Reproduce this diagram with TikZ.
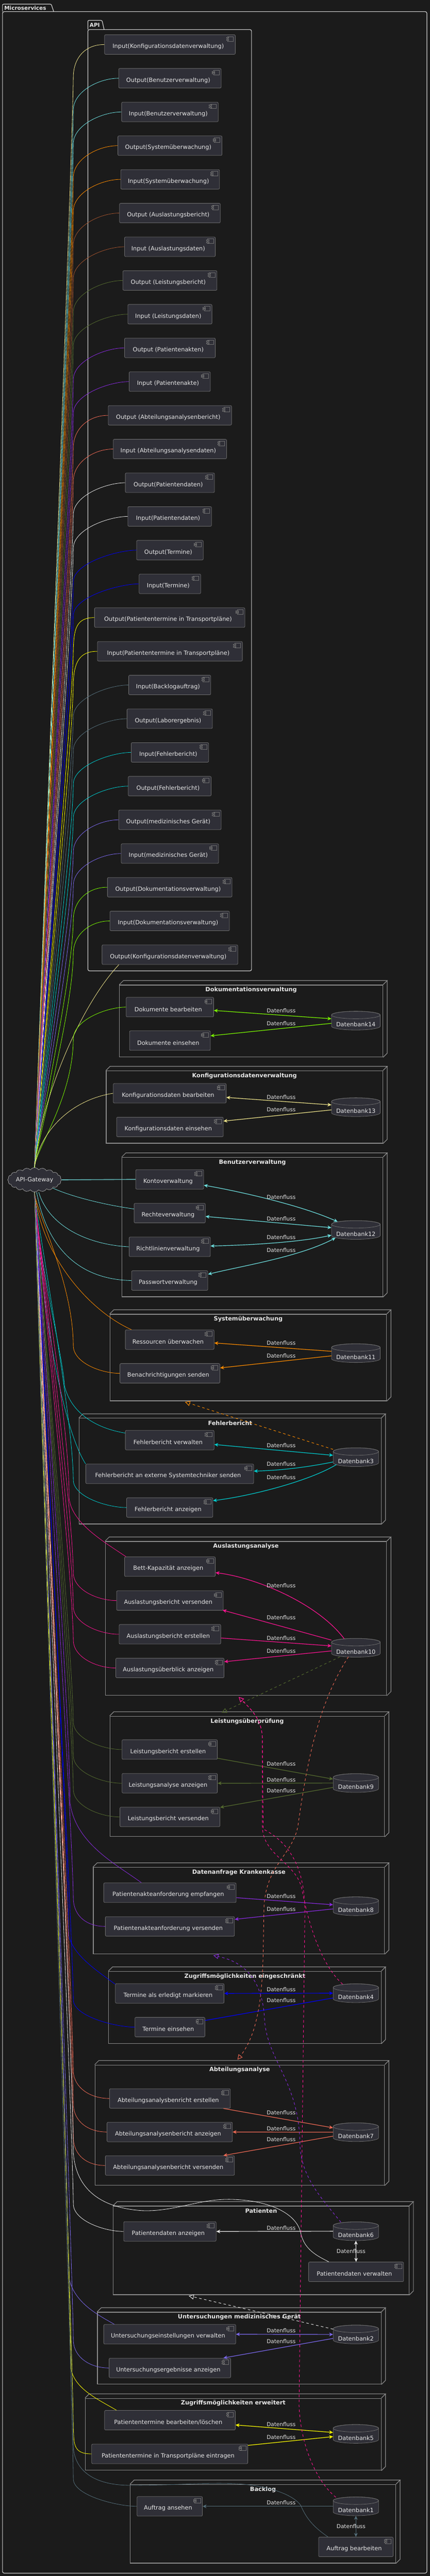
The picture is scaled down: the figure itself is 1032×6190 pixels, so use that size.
\documentclass[tikz,border=0pt]{standalone}
\usepackage{fontspec}
\setmainfont{DejaVu Sans}
\usetikzlibrary{calc,arrows.meta,shapes.symbols}
\definecolor{bgc}{HTML}{1B1B1B}
\definecolor{cfill}{HTML}{2F2F37}
\definecolor{cbord}{HTML}{6C6C6C}
\definecolor{cicon}{HTML}{707070}
\definecolor{ctext}{HTML}{E8E8E8}
\definecolor{pkgline}{HTML}{D4D4D4}
\definecolor{boxline}{HTML}{8A8A8A}
\definecolor{cgwb}{HTML}{9A9A9A}
\definecolor{cKhaki}{HTML}{F0E68C}
\definecolor{cCyan}{HTML}{6EE2E2}
\definecolor{cCyanD}{HTML}{5FB3B3}
\definecolor{cOrange}{HTML}{FF8C00}
\definecolor{cSienna}{HTML}{A0522D}
\definecolor{cOlive}{HTML}{556B2F}
\definecolor{cViolet}{HTML}{8A2BE2}
\definecolor{cTomato}{HTML}{F06A55}
\definecolor{cWhite}{HTML}{E8E8E8}
\definecolor{cBlue}{HTML}{0000FF}
\definecolor{cYellow}{HTML}{FFFF00}
\definecolor{cSlate}{HTML}{546E7A}
\definecolor{cTurq}{HTML}{00CED1}
\definecolor{cMSB}{HTML}{7B68EE}
\definecolor{cGreen}{HTML}{7CFC00}
\definecolor{cPink}{HTML}{FF1493}
\tikzset{
 comp/.style={draw=cbord, fill=cfill, rounded corners=2pt, minimum height=35.25pt, inner sep=0pt, line width=0.75pt},
 ctxt/.style={text=ctext, font=\fontsize{10.5pt}{12pt}\selectfont, inner sep=0pt},
 icon/.style={draw=cicon, fill=cfill, line width=0.75pt},
 dbbox/.style={minimum height=33.75pt, inner sep=0pt},
 dbline/.style={draw=cbord, line width=0.75pt},
 boxfront/.style={draw=boxline, line width=1.1pt, inner sep=0pt},
 boxl/.style={draw=boxline, line width=1.1pt},
 btitle/.style={text=ctext, font=\bfseries\fontsize{10.5pt}{12pt}\selectfont, inner sep=0pt},
 ptitle/.style={text=ctext, font=\bfseries\fontsize{9.75pt}{11pt}\selectfont, inner sep=0pt},
 pkg/.style={draw=pkgline, line width=1.1pt},
 gwl/.style={line width=0.75pt},
 df/.style={line width=1.1pt, -{Stealth[length=7pt,width=6.5pt,inset=2.2pt]}},
 dfb/.style={line width=1.1pt, {Stealth[length=7pt,width=6.5pt,inset=2.2pt]}-{Stealth[length=7pt,width=6.5pt,inset=2.2pt]}},
 dfn/.style={line width=1.1pt},
 inh/.style={line width=0.9pt, dash pattern=on 4.5pt off 4.5pt, -{Triangle[open,length=9pt,width=9pt]}},
 lbl/.style={text=ctext, font=\fontsize{9.75pt}{11pt}\selectfont, inner sep=0pt},
}
% name, L, R, cy, text
\newcommand{\comp}[5]{%
 \node[comp, minimum width={0.75pt*(#3-#2)}] (#1) at ({(#2+#3)/2},#4) {};
 \node[ctxt] (#1x) at ({(#2+#3)/2-4},#4+5) {#5};
 \draw[icon] ($(#1.north east)+(-19,5)$) rectangle ($(#1.north east)+(-5,16)$);
 \draw[icon] ($(#1.north east)+(-22,7)$) rectangle ($(#1.north east)+(-16,9.5)$);
 \draw[icon] ($(#1.north east)+(-22,11.5)$) rectangle ($(#1.north east)+(-16,14)$);
}
% name, cx, top, width, text
\newcommand{\dbase}[5]{%
 \path[fill=cfill, dbline] ({#2-#4/2},#3+9) -- ({#2-#4/2},#3+36) arc[start angle=180,end angle=360,x radius={0.375pt*#4},y radius=6.75pt] -- ({#2+#4/2},#3+9) arc[start angle=0,end angle=180,x radius={0.375pt*#4},y radius=6.75pt] -- cycle;
 \draw[dbline] (#2,#3+9) ellipse [x radius={0.375pt*#4}, y radius=6.75pt];
 \node[dbbox, minimum width={0.75pt*#4}] (#1) at (#2,#3+22.5) {};
 \node[ctxt] (#1x) at (#2,#3+32) {#5};
}
% name, L, R, F, B, title
\newcommand{\svcbox}[6]{%
 \node[boxfront, minimum width={0.75pt*(#3-#2)}, minimum height={0.75pt*(#5-#4)}] (#1) at ({(#2+#3)/2},{(#4+#5)/2}) {};
 \draw[boxl] (#1.north west) -- ++(10,-10) -- ($(#1.north east)+(10,-10)$) -- (#1.north east);
 \draw[boxl] ($(#1.north east)+(10,-10)$) -- ($(#1.south east)+(10,-10)$) -- (#1.south east);
 \node[btitle] (#1t) at ({(#2+#3)/2},#4+12) {#6};
}
\newcommand{\gwup}[3]{\draw[gwl,#1] (gw.north) .. controls ($(gw.north)+(0,-40)$) and (176,#3+220) .. (176,#3+75) .. controls (178,#3+30) and ($(#2.west)+(-45,0)$) .. (#2.west);}
\newcommand{\gwdn}[3]{\draw[gwl,#1] (gw.south) .. controls ($(gw.south)+(0,40)$) and (176,#3-220) .. (176,#3-65) .. controls (178,#3-25) and ($(#2.west)+(-45,0)$) .. (#2.west);}
\newcommand{\dfl}[3]{\node[lbl] (#1) at (#2,#3) {Datenfluss};}
\begin{document}
\begin{tikzpicture}[x=0.75pt,y=-0.75pt]
\fill[bgc] (0,0) rectangle (1032,6190);
\useasboundingbox (0,0) rectangle (1032,6190);
% packages
\draw[pkg, rounded corners=2pt] (6,28) -- (6,10) -- (123,10) -- (129,28);
\draw[pkg, rounded corners=3pt] (6,28) rectangle (1025,6183);
\node[ptitle, anchor=west] (msT) at (10,19) {Microservices};
\draw[pkg, rounded corners=2pt] (211,71) -- (211,49) -- (245,49) -- (250,71);
\draw[pkg, rounded corners=3pt] (211,71) rectangle (604,2333);
\node[ptitle, anchor=west] (apiT) at (215,60) {API};
% service boxes
\svcbox{bxDok}{287}{919}{2367}{2540}{Dokumentationsverwaltung}
\svcbox{bxKon}{255}{919}{2573}{2747}{Konfigurationsdatenverwaltung}
\svcbox{bxBen}{293}{919}{2781}{3116}{Benutzerverwaltung}
\svcbox{bxSys}{264}{928}{3158}{3366}{Systemüberwachung}
\svcbox{bxFeh}{190}{915}{3408}{3662}{Fehlerbericht}
\svcbox{bxAus}{253}{928}{3704}{4074}{Auslastungsanalyse}
\svcbox{bxLei}{264}{923}{4124}{4413}{Leistungsüberprüfung}
\svcbox{bxDat}{224}{923}{4487}{4695}{Datenanfrage Krankenkasse}
\svcbox{bxZug}{261}{915}{4737}{4910}{Zugriffsmöglichkeiten eingeschränkt}
\svcbox{bxAbt}{228}{923}{4962}{5251}{Abteilungsanalyse}
\svcbox{bxPat}{272}{982}{5301}{5514}{Patienten}
\svcbox{bxUnt}{234}{915}{5556}{5729}{Untersuchungen medizinisches Gerät}
\svcbox{bxZer}{205}{915}{5763}{5936}{Zugriffsmöglichkeiten erweitert}
\svcbox{bxBac}{313}{950}{5970}{6159}{Backlog}
% API components
\comp{a01}{251}{565}{107}{Input(Konfigurationsdatenverwaltung)}
\comp{a02}{285}{531}{188}{Output(Benutzerverwaltung)}
\comp{a03}{292}{524}{269}{Input(Benutzerverwaltung)}
\comp{a04}{283}{533}{350}{Output(Systemüberwachung)}
\comp{a05}{290}{527}{431}{Input(Systemüberwachung)}
\comp{a06}{287}{529}{512}{Output (Auslastungsbericht)}
\comp{a07}{299}{517}{593}{Input (Auslastungsdaten)}
\comp{a08}{295}{521}{674}{Output (Leistungsbericht)}
\comp{a09}{307}{509}{755}{Input (Leistungsdaten)}
\comp{a10}{299}{517}{836}{Output (Patientenakten)}
\comp{a11}{310}{505}{917}{Input (Patientenakte)}
\comp{a12}{260}{556}{998}{Output (Abteilungsanalysenbericht)}
\comp{a13}{272}{544}{1079}{Input (Abteilungsanalysendaten)}
\comp{a14}{301}{515}{1160}{Output(Patientendaten)}
\comp{a15}{307}{508}{1241}{Input(Patientendaten)}
\comp{a16}{328}{488}{1322}{Output(Termine)}
\comp{a17}{334}{482}{1403}{Input(Termine)}
\comp{a18}{227}{588}{1484}{Output(Patiententermine in Transportpläne)}
\comp{a19}{234}{582}{1565}{Input(Patiententermine in Transportpläne)}
\comp{a20}{309}{506}{1646}{Input(Backlogauftrag)}
\comp{a21}{305}{510}{1727}{Output(Laborergebnis)}
\comp{a22}{315}{501}{1808}{Input(Fehlerbericht)}
\comp{a23}{308}{507}{1889}{Output(Fehlerbericht)}
\comp{a24}{285}{531}{1970}{Output(medizinisches Gerät)}
\comp{a25}{291}{525}{2051}{Input(medizinisches Gerät)}
\comp{a26}{258}{557}{2132}{Output(Dokumentationsverwaltung)}
\comp{a27}{264}{551}{2213}{Input(Dokumentationsverwaltung)}
\comp{a28}{245}{571}{2294}{Output(Konfigurationsdatenverwaltung)}
% service components
\comp{dokbe}{303}{513}{2420}{Dokumente bearbeiten}
\comp{dokei}{311}{505}{2500.5}{Dokumente einsehen}
\comp{konbe}{272}{543}{2627}{Konfigurationsdaten bearbeiten}
\comp{konei}{280}{536}{2708}{Konfigurationsdaten einsehen}
\comp{konto}{326}{489}{2834}{Kontoverwaltung}
\comp{recht}{322}{493}{2915}{Rechteverwaltung}
\comp{richt}{310}{505}{2996}{Richtlinienverwaltung}
\comp{passw}{316}{499}{3077}{Passwortverwaltung}
\comp{resue}{301}{514}{3219}{Ressourcen überwachen}
\comp{bena}{288}{528}{3300}{Benachrichtigungen senden}
\comp{fbver}{301}{514}{3460.5}{Fehlerbericht verwalten}
\comp{fbext}{206}{609}{3541.5}{Fehlerbericht an externe Systemtechniker senden}
\comp{fbanz}{304}{511}{3622.5}{Fehlerbericht anzeigen}
\comp{bett}{299}{517}{3764.5}{Bett-Kapazität anzeigen}
\comp{ausv}{280}{536}{3846}{Auslastungsbericht versenden}
\comp{ause}{286}{530}{3927}{Auslastungsbericht erstellen}
\comp{ausu}{278}{538}{4008}{Auslastungsüberblick anzeigen}
\comp{leie}{293}{522}{4204}{Leistungsbericht erstellen}
\comp{leia}{293}{522}{4285}{Leistungsanalyse anzeigen}
\comp{leiv}{288}{528}{4366}{Leistungsbericht versenden}
\comp{pake}{249}{567}{4548}{Patientenakteanforderung empfangen}
\comp{pakv}{253}{563}{4629}{Patientenakteanforderung versenden}
\comp{term}{277}{538}{4790}{Termine als erledigt markieren}
\comp{tere}{324}{492}{4871}{Termine einsehen}
\comp{abte}{263}{553}{5042.5}{Abteilungsanalysbenricht erstellen}
\comp{abta}{257}{558}{5123}{Abteilungsanalysenbericht anzeigen}
\comp{abtv}{253}{563}{5203.5}{Abteilungsanalysenbericht versenden}
\comp{pata}{297}{519}{5362}{Patientendaten anzeigen}
\comp{patv}{741}{969}{5459}{Patientendaten verwalten}
\comp{untv}{249}{566}{5609}{Untersuchungseinstellungen verwalten}
\comp{unte}{262}{554}{5690}{Untersuchungsergebnisse anzeigen}
\comp{ptb}{251}{565}{5815.5}{Patiententermine bearbeiten/löschen}
\comp{pte}{220}{595}{5896.5}{Patiententermine in Transportpläne eintragen}
\comp{aufa}{329}{486}{6022.5}{Auftrag ansehen}
\comp{aufb}{765}{944}{6120}{Auftrag bearbeiten}
% databases
\dbase{db14}{854.5}{2430}{117}{Datenbank14}
\dbase{db13}{854.5}{2638}{117}{Datenbank13}
\dbase{db12}{854.5}{2933}{117}{Datenbank12}
\dbase{db11}{854.5}{3229}{117}{Datenbank11}
\dbase{db3}{854.5}{3479}{109}{Datenbank3}
\dbase{db10}{854.5}{3937}{117}{Datenbank10}
\dbase{db9}{854.5}{4262}{109}{Datenbank9}
\dbase{db8}{854.5}{4558}{109}{Datenbank8}
\dbase{db4}{854.5}{4767}{109}{Datenbank4}
\dbase{db7}{854.5}{5101}{109}{Datenbank7}
\dbase{db6}{854.5}{5339}{109}{Datenbank6}
\dbase{db2}{854.5}{5587}{109}{Datenbank2}
\dbase{db5}{854.5}{5826}{109}{Datenbank5}
\dbase{db1}{854.5}{6000}{109}{Datenbank1}
% gateway
\node[cloud, cloud puffs=20, cloud puff arc=110, aspect=2.6, draw=cgwb, fill=cfill, line width=0.75pt, minimum width=90pt, minimum height=35pt, inner sep=0pt, text=ctext, font=\fontsize{10.5pt}{12pt}\selectfont] (gw) at (83,2835) {API-Gateway};
% gateway to API
\gwup{cKhaki}{a01}{107}
\gwup{cCyan}{a02}{188}
\gwup{cCyan}{a03}{269}
\gwup{cOrange}{a04}{350}
\gwup{cOrange}{a05}{431}
\gwup{cSienna}{a06}{512}
\gwup{cSienna}{a07}{593}
\gwup{cOlive}{a08}{674}
\gwup{cOlive}{a09}{755}
\gwup{cViolet}{a10}{836}
\gwup{cViolet}{a11}{917}
\gwup{cTomato}{a12}{998}
\gwup{cTomato}{a13}{1079}
\gwup{cWhite}{a14}{1160}
\gwup{cWhite}{a15}{1241}
\gwup{cBlue}{a16}{1322}
\gwup{cBlue}{a17}{1403}
\gwup{cYellow}{a18}{1484}
\gwup{cYellow}{a19}{1565}
\gwup{cSlate}{a20}{1646}
\gwup{cSlate}{a21}{1727}
\gwup{cTurq}{a22}{1808}
\gwup{cTurq}{a23}{1889}
\gwup{cMSB}{a24}{1970}
\gwup{cMSB}{a25}{2051}
\gwup{cGreen}{a26}{2132}
\gwup{cGreen}{a27}{2213}
\draw[gwl,cKhaki] (gw.north) .. controls (95,2650) and (190,2420) .. ($(a28.south west)+(41,0)$);
\gwup{cGreen}{dokbe}{2420}
\draw[gwl,cKhaki] (gw.north) .. controls (92,2730) and (160,2645) .. (konbe.west);
% gateway to services
\draw[line width=1.5pt,cCyanD] (gw.east) -- (konto.west);
\draw[gwl,cCyan] (gw.south east) .. controls (170,2875) and (250,2895) .. ($(recht.west)+(0,-10)$);
\draw[gwl,cCyan] ($(gw.south)+(10,0)$) .. controls (115,2940) and (200,2990) .. (richt.west);
\draw[gwl,cCyan] ($(gw.south)+(5,0)$) .. controls (115,3010) and (200,3075) .. (passw.west);
\draw[gwl,cOrange] (gw.south) .. controls (100,3020) and (215,3150) .. ($(resue.north west)+(15,0)$);
\gwdn{cOrange}{bena}{3300}
\draw[gwl,cTurq] (gw.south) .. controls (95,3050) and (150,3250) .. (155,3330) .. controls (170,3395) and (230,3432) .. ($(fbver.west)+(0,-17)$);
\draw[gwl,cTurq] (gw.south) .. controls (100,3150) and (150,3430) .. (fbext.north west);
\gwdn{cTurq}{fbanz}{3622.5}
\draw[gwl,cPink] (gw.south) .. controls (90,3000) and (166,3400) .. (166,3600) .. controls (172,3660) and (250,3705) .. ($(bett.north west)+(4,0)$);
\gwdn{cPink}{ausv}{3846}
\gwdn{cPink}{ause}{3927}
\gwdn{cPink}{ausu}{4008}
\gwdn{cOlive}{leie}{4204}
\gwdn{cOlive}{leia}{4285}
\gwdn{cOlive}{leiv}{4366}
\draw[gwl,cViolet] (gw.south) .. controls (90,3000) and (168,4100) .. (168,4330) .. controls (180,4430) and (280,4480) .. ($(pake.north west)+(91,0)$);
\gwdn{cViolet}{pakv}{4629}
\draw[gwl,cBlue] (gw.south) .. controls (90,3000) and (165,4450) .. (165,4650) .. controls (175,4700) and (240,4740) .. ($(term.north west)+(0,2)$);
\gwdn{cBlue}{tere}{4871}
\gwdn{cTomato}{abte}{5042.5}
\gwdn{cTomato}{abta}{5123}
\gwdn{cTomato}{abtv}{5203.5}
\gwdn{cWhite}{pata}{5362}
\draw[gwl,cWhite] (gw.south) .. controls (90,3000) and (176,4950) .. (176,5170) .. controls (180,5250) and (230,5305) .. (342,5312) .. controls (420,5315) and (480,5282) .. (559,5285) .. controls (650,5288) and (712,5320) .. (722,5365) .. controls (730,5405) and (760,5420) .. ($(patv.north west)+(49,0)$);
\draw[gwl,cMSB] (gw.south) .. controls (90,3000) and (165,5270) .. (165,5470) .. controls (175,5530) and (230,5560) .. ($(untv.north west)+(26,0)$);
\gwdn{cMSB}{unte}{5690}
\draw[gwl,cYellow] (gw.south) .. controls (90,3000) and (170,5490) .. (170,5690) .. controls (178,5740) and (235,5765) .. ($(ptb.north west)+(29,0)$);
\gwdn{cYellow}{pte}{5896.5}
\gwdn{cSlate}{aufa}{6022.5}
\draw[gwl,cSlate] (gw.south) .. controls (90,3000) and (176,5680) .. (176,5880) .. controls (180,5940) and (230,5972) .. (313,5972) .. controls (420,5972) and (500,5965) .. (559,5968) .. controls (630,5970) and (700,5990) .. (722,6020) .. controls (735,6050) and (750,6070) .. ($(aufb.north west)+(23,0)$);
% inner data flows
\draw[dfb,cGreen] ($(dokbe.east)+(0,8)$) -- ($(db14.west)+(0,-4.5)$);
\draw[df,cGreen] ($(db14.west)+(0,6.5)$) -- ($(dokei.east)+(0,-11.5)$);
\draw[dfb,cKhaki] ($(konbe.east)+(0,10)$) -- ($(db13.west)+(0,-5.5)$);
\draw[df,cKhaki] ($(db13.west)+(0,6.5)$) -- ($(konei.east)+(0,-14)$);
\draw[dfb,cCyan] ($(konto.east)+(0,14)$) .. controls (570,2862) and (720,2895) .. ($(db12.north west)+(15,3)$);
\draw[dfb,cCyan] ($(recht.east)+(0,8)$) -- ($(db12.west)+(0,-5.5)$);
\draw[dfb,cCyan] ($(richt.east)+(0,-2)$) .. controls (600,2992) and (720,2985) .. ($(db12.west)+(0,12.5)$);
\draw[dfb,cCyan] ($(passw.east)+(0,-15)$) .. controls (580,3042) and (720,3020) .. ($(db12.south west)+(10,-4)$);
\draw[df,cOrange] ($(db11.west)+(0,-4.5)$) -- ($(resue.east)+(0,8)$);
\draw[df,cOrange] ($(db11.west)+(0,6.5)$) -- ($(bena.east)+(0,-13)$);
\draw[dfb,cTurq] ($(fbver.east)+(0,10.5)$) -- ($(db3.west)+(0,-4.5)$);
\draw[df,cTurq] ($(db3.west)+(0,11.5)$) .. controls (740,3525) and (680,3533) .. ($(fbext.east)+(0,-6.5)$);
\draw[df,cTurq] ($(db3.south west)+(8,-5)$) .. controls (740,3560) and (600,3595) .. ($(fbanz.east)+(0,-16.5)$);
\draw[df,cPink] ($(db10.north)+(-28,1)$) .. controls (760,3850) and (610,3790) .. ($(bett.east)+(0,14.5)$);
\draw[df,cPink] ($(db10.west)+(0,-18.5)$) -- ($(ausv.east)+(-2,23)$);
\draw[df,cPink] ($(ause.east)+(0,9)$) -- ($(db10.west)+(0,-4.5)$);
\draw[df,cPink] ($(db10.west)+(0,7.5)$) -- ($(ausu.east)+(0,-15)$);
\draw[df,cOlive] ($(leie.east)+(0,21)$) -- ($(db9.west)+(0,-9.5)$);
\draw[df,cOlive] (db9.west) -- (leia.east);
\draw[df,cOlive] ($(db9.west)+(0,10.5)$) -- ($(leiv.east)+(0,-23)$);
\draw[df,cViolet] ($(pake.east)+(0,12)$) -- ($(db8.west)+(0,-3.5)$);
\draw[df,cViolet] ($(db8.west)+(0,6.5)$) -- ($(pakv.east)+(0,-17)$);
\draw[dfb,cBlue] (term.east) -- (db4.west);
\draw[dfn,cBlue] ($(db4.west)+(0,11.5)$) -- ($(tere.east)+(0,-16)$);
\draw[df,cTomato] ($(abte.south east)+(-17,0)$) -- ($(db7.west)+(0,-10.5)$);
\draw[df,cTomato] (db7.west) -- (abta.east);
\draw[df,cTomato] ($(db7.west)+(0,9.5)$) -- ($(abtv.north east)+(-27,0)$);
\draw[df,cWhite] (db6.west) -- (pata.east);
\draw[dfb,cWhite] (db6.south) -- (patv.north);
\draw[dfb,cMSB] (untv.east) -- (db2.west);
\draw[df,cMSB] ($(db2.west)+(0,9.5)$) -- ($(unte.north east)+(-18,0)$);
\draw[dfb,cYellow] ($(ptb.east)+(0,11.5)$) -- ($(db5.west)+(0,-3.5)$);
\draw[df,cYellow] ($(pte.east)+(0,-20.5)$) -- ($(db5.west)+(0,6.5)$);
\draw[df,cSlate] (db1.west) -- (aufa.east);
\draw[dfb,cSlate] (db1.south) -- (aufb.north);
% labels
\dfl{l01}{675}{2429}\dfl{l02}{675}{2459}
\dfl{l03}{675}{2636}\dfl{l04}{675}{2666}
\dfl{l05}{675}{2876}\dfl{l06}{675}{2928}\dfl{l07}{675}{2973}\dfl{l08}{675}{3004}
\dfl{l09}{675}{3227}\dfl{l10}{675}{3258}
\dfl{l11}{675}{3473}\dfl{l12}{675}{3518}\dfl{l13}{675}{3550}
\dfl{l14}{675}{3810}\dfl{l15}{675}{3887}\dfl{l16}{675}{3936}\dfl{l17}{675}{3967}
\dfl{l18}{675}{4238}\dfl{l19}{675}{4277}\dfl{l20}{675}{4303}
\dfl{l21}{675}{4556}\dfl{l22}{675}{4588}
\dfl{l23}{675}{4781}\dfl{l24}{675}{4807}
\dfl{l25}{675}{5076}\dfl{l26}{675}{5115}\dfl{l27}{675}{5141}
\dfl{l28}{675}{5354}\dfl{l29}{843}{5410}
\dfl{l30}{675}{5600}\dfl{l31}{675}{5626}
\dfl{l32}{675}{5825}\dfl{l33}{675}{5856}
\dfl{l34}{675}{6014}\dfl{l35}{843}{6071}
% dashed realizations
\draw[inh,cOrange] ($(db3.north west)+(0,4)$) -- ($(bxSys.south west)+(181,2)$);
\draw[inh,cOlive] ($(db10.south)+(-38,-1)$) -- ($(bxLei.north west)+(269,-8)$);
\draw[inh,cTomato] ($(db10.south)+(-18,-1)$) .. controls (760,4100) and (735,4250) .. (715,4390) .. controls (700,4460) and (640,4480) .. (634,4580) .. controls (630,4700) and (640,4860) .. ($(bxAbt.north west)+(343,-12)$);
\draw[inh,cPink] ($(db4.north)+(-32,1)$) .. controls (770,4720) and (740,4620) .. (725,4540) .. controls (712,4475) and (632,4460) .. (630,4390) -- (630,4180) .. controls (630,4130) and (600,4105) .. ($(bxAus.south west)+(321,3)$);
\draw[inh,cPink] ($(db1.north)+(-48,1)$) .. controls (762,5965) and (722,5880) .. (718,5780) -- (732,4600) .. controls (734,4470) and (680,4420) .. (632,4395) -- (630,4180) .. controls (630,4130) and (600,4105) .. ($(bxAus.south west)+(321,3)$);
\draw[inh,cViolet] ($(db6.north)+(-36,1)$) .. controls (770,5280) and (722,5230) .. (720,5150) .. controls (718,5000) and (640,4950) .. (635,4850) .. controls (630,4760) and (590,4715) .. ($(bxDat.south west)+(289,3)$);
\draw[inh,cWhite] ($(db2.north west)+(0,10)$) -- ($(bxPat.south west)+(182,2)$);
\end{tikzpicture}
\end{document}
